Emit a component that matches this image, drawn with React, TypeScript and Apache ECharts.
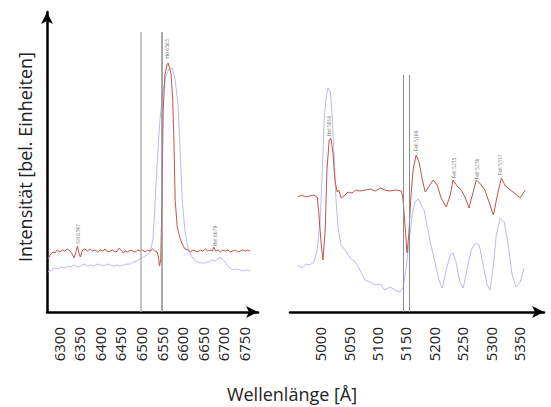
import React, { useEffect, useRef } from "react";
import * as echarts from "echarts";

// Hα region (Å, rel. intensity)
const haWave = [6274, 6280, 6286, 6291, 6297, 6303, 6309, 6315, 6321, 6328, 6333, 6338, 6342, 6346, 6350, 6353, 6358, 6364, 6370, 6376, 6382, 6389, 6395, 6401, 6407, 6413, 6419, 6425, 6431, 6437, 6443, 6447, 6452, 6457, 6462, 6468, 6474, 6480, 6486, 6492, 6498, 6504, 6510, 6516, 6522, 6528, 6534, 6539, 6542, 6545, 6548, 6551, 6554, 6558, 6563, 6566, 6570, 6573, 6577, 6580, 6583, 6588, 6594, 6600, 6607, 6615, 6620, 6626, 6632, 6638, 6644, 6650, 6656, 6662, 6668, 6673, 6677, 6681, 6687, 6693, 6699, 6705, 6711, 6717, 6723, 6729, 6735, 6741, 6747, 6753, 6759, 6765];
const haRed = [53, 57, 60, 59, 62, 60, 62, 61, 63, 61, 58, 54, 60, 66, 58, 55, 62, 63, 61, 63, 61, 62, 60, 62, 61, 63, 60, 61, 62, 60, 61, 64, 62, 59, 61, 60, 62, 61, 60, 62, 61, 62, 60, 62, 61, 63, 61, 60, 56, 46, 52, 112, 202, 237, 247, 249, 243, 238, 214, 170, 112, 85, 75, 68, 63, 62, 60, 62, 61, 60, 62, 61, 63, 61, 62, 61, 65, 61, 62, 60, 62, 61, 62, 60, 61, 62, 60, 61, 62, 61, 62, 61];
const haBlueWave = [6274, 6282, 6290, 6298, 6306, 6314, 6322, 6330, 6338, 6346, 6354, 6362, 6370, 6378, 6386, 6394, 6402, 6410, 6418, 6426, 6434, 6442, 6450, 6458, 6466, 6474, 6482, 6490, 6498, 6506, 6514, 6522, 6529, 6534, 6539, 6546, 6554, 6561, 6568, 6576, 6583, 6590, 6595, 6600, 6607, 6615, 6624, 6632, 6639, 6647, 6656, 6664, 6673, 6680, 6686, 6692, 6698, 6704, 6710, 6716, 6724, 6732, 6740, 6748, 6756, 6765];
const haBlue = [40, 42, 44, 43, 45, 44, 46, 45, 47, 45, 46, 48, 46, 47, 46, 48, 47, 46, 48, 47, 46, 47, 46, 47, 48, 48, 50, 51, 53, 55, 57, 60, 72, 107, 147, 192, 222, 237, 243, 244, 232, 207, 162, 112, 80, 62, 55, 51, 50, 49, 49, 50, 52, 51, 53, 55, 52, 50, 46, 44, 42, 43, 42, 41, 42, 41];

// He I / Fe II region
const feWave = [4961, 4968, 4975, 4982, 4989, 4995, 4998, 5002, 5005, 5009, 5012, 5016, 5019, 5023, 5026, 5030, 5033, 5037, 5042, 5049, 5056, 5063, 5070, 5079, 5088, 5097, 5106, 5114, 5123, 5132, 5143, 5146, 5150, 5153, 5156, 5160, 5164, 5169, 5174, 5180, 5185, 5192, 5199, 5206, 5213, 5222, 5229, 5234, 5241, 5248, 5255, 5262, 5268, 5275, 5282, 5290, 5299, 5305, 5312, 5319, 5326, 5335, 5344, 5352, 5361];
const feRed = [115, 117, 115, 116, 117, 115, 97, 67, 52, 82, 142, 172, 174, 157, 132, 120, 122, 114, 116, 120, 119, 122, 121, 122, 123, 121, 124, 122, 121, 122, 121, 112, 82, 59, 77, 117, 144, 157, 150, 132, 120, 126, 132, 127, 114, 105, 117, 132, 126, 122, 115, 104, 117, 132, 128, 122, 107, 97, 117, 134, 126, 122, 118, 114, 122];
const feBlueWave = [4961, 4968, 4975, 4982, 4989, 4995, 5000, 5004, 5007, 5011, 5014, 5018, 5021, 5025, 5028, 5032, 5037, 5044, 5053, 5062, 5070, 5079, 5088, 5097, 5106, 5114, 5123, 5132, 5141, 5146, 5151, 5156, 5162, 5167, 5173, 5178, 5183, 5188, 5195, 5202, 5209, 5215, 5222, 5229, 5234, 5239, 5246, 5252, 5259, 5266, 5273, 5280, 5287, 5294, 5299, 5305, 5310, 5317, 5324, 5331, 5338, 5345, 5352, 5359];
const feBlue = [47, 44, 48, 47, 50, 62, 92, 142, 192, 217, 224, 220, 197, 152, 112, 82, 67, 62, 54, 50, 42, 32, 30, 27, 28, 22, 25, 22, 20, 24, 42, 67, 97, 110, 113, 107, 102, 87, 67, 50, 32, 24, 42, 57, 59, 50, 30, 24, 44, 62, 69, 67, 47, 27, 22, 47, 77, 94, 90, 67, 37, 25, 30, 44];

// Tick labels
const haTicks = [6300, 6350, 6400, 6450, 6500, 6550, 6600, 6650, 6700, 6750];
const feTicks = [5000, 5050, 5100, 5150, 5200, 5250, 5300, 5350];

// Reference wavelengths drawn as vertical lines
const haMarks = [6500, 6550];
const feMarks = [5146, 5156];

// Line identifications: [wavelength, label height, text]
const haLines: [number, number, string][] = [
  [6347, 78, "SiII 6347"],
  [6563, 263, "Hα 6563"],
  [6680, 76, "HeI 6678"],
];
const feLines: [number, number, string][] = [
  [5016, 186, "HeI 5016"],
  [5169, 171, "FeII 5169"],
  [5235, 144, "FeII 5235"],
  [5276, 143, "FeII 5276"],
  [5317, 147, "FeII 5317"],
];

const FONT = "'Open Sans', 'Noto Sans', sans-serif";
const RED = "#c4524d";
const BLUE = "#babaf2";

const zip = (xs: number[], ys: number[]) => xs.map((x, i) => [x, ys[i]]);

export default function App() {
  const ref = useRef<HTMLDivElement>(null);

  useEffect(() => {
    if (!ref.current) return;
    const chart = echarts.init(ref.current, null, { renderer: "svg" });

    const xAxisBase = (gridIndex: number, min: number, max: number, ticks: number[]) => ({
      gridIndex,
      type: "value",
      min,
      max,
      axisLine: {
        show: true,
        symbol: ["none", "arrow"],
        symbolSize: [9, 12],
        lineStyle: { color: "#000", width: 2.5 },
      },
      axisTick: { show: false },
      splitLine: { show: false },
      axisLabel: {
        customValues: ticks,
        formatter: (v: number) => String(v),
        rotate: 90,
        fontSize: 15,
        color: "#222",
        margin: 15,
        fontFamily: FONT,
      },
    });

    const vLines = (marks: number[], top: number, colors: string[], width: number) => ({
      silent: true,
      symbol: "none",
      label: { show: false },
      data: marks.map((m, i) => [
        { coord: [m, 0], lineStyle: { color: colors[i], width, type: "solid" } },
        { coord: [m, top] },
      ]),
    });

    const idSeries = (xi: number, items: [number, number, string][]) => ({
      type: "scatter",
      xAxisIndex: xi,
      yAxisIndex: xi,
      symbolSize: 0,
      silent: true,
      z: 5,
      data: items.map(([w, h, t]) => ({ value: [w, h], name: t })),
      label: {
        show: true,
        position: "inside",
        rotate: 90,
        formatter: (p: any) => p.name,
        fontSize: 5,
        color: "#444",
        fontFamily: FONT,
      },
    });

    chart.setOption({
      animation: false,
      backgroundColor: "#fff",
      grid: [
        { left: 47, top: 12, width: 211, bottom: 95 },
        { left: 290, top: 12, width: 254, bottom: 95 },
      ],
      xAxis: [
        xAxisBase(0, 6272, 6784, haTicks),
        xAxisBase(1, 4947, 5394, feTicks),
      ],
      yAxis: [
        {
          gridIndex: 0,
          type: "value",
          min: 0,
          max: 300,
          axisLine: {
            show: true,
            symbol: ["none", "arrow"],
            symbolSize: [9, 12],
            lineStyle: { color: "#000", width: 2.5 },
          },
          axisTick: { show: false },
          axisLabel: { show: false },
          splitLine: { show: false },
        },
        {
          gridIndex: 1,
          type: "value",
          min: 0,
          max: 300,
          show: false,
        },
      ],
      series: [
        {
          type: "line",
          xAxisIndex: 0,
          yAxisIndex: 0,
          data: zip(haBlueWave, haBlue),
          showSymbol: false,
          lineStyle: { color: BLUE, width: 1 },
          z: 2,
        },
        {
          type: "line",
          xAxisIndex: 0,
          yAxisIndex: 0,
          data: zip(haWave, haRed),
          showSymbol: false,
          lineStyle: { color: RED, width: 1 },
          z: 3,
          markLine: vLines(haMarks, 280, ["#b0b0b0", "#8c8c8c"], 1.5),
        },
        {
          type: "line",
          xAxisIndex: 1,
          yAxisIndex: 1,
          data: zip(feBlueWave, feBlue),
          showSymbol: false,
          lineStyle: { color: BLUE, width: 1 },
          z: 2,
        },
        {
          type: "line",
          xAxisIndex: 1,
          yAxisIndex: 1,
          data: zip(feWave, feRed),
          showSymbol: false,
          lineStyle: { color: RED, width: 1 },
          z: 3,
          markLine: vLines(feMarks, 237, ["#8c8c8c", "#8c8c8c"], 1),
        },
        idSeries(0, haLines),
        idSeries(1, feLines),
      ],
      graphic: [
        {
          type: "text",
          x: 292,
          y: 394,
          style: {
            text: "Wellenlänge [Å]",
            fontSize: 18,
            fill: "#222",
            fontFamily: FONT,
            align: "center",
            verticalAlign: "middle",
          },
        },
        {
          type: "text",
          x: 25,
          y: 157,
          rotation: Math.PI / 2,
          style: {
            text: "Intensität [bel. Einheiten]",
            fontSize: 18,
            fill: "#222",
            fontFamily: FONT,
            align: "center",
            verticalAlign: "middle",
          },
        },
      ],
    });

    return () => chart.dispose();
  }, []);

  return (
    <div
      ref={ref}
      style={{ position: "absolute", left: 0, top: 0, width: 551, height: 407 }}
    />
  );
}
